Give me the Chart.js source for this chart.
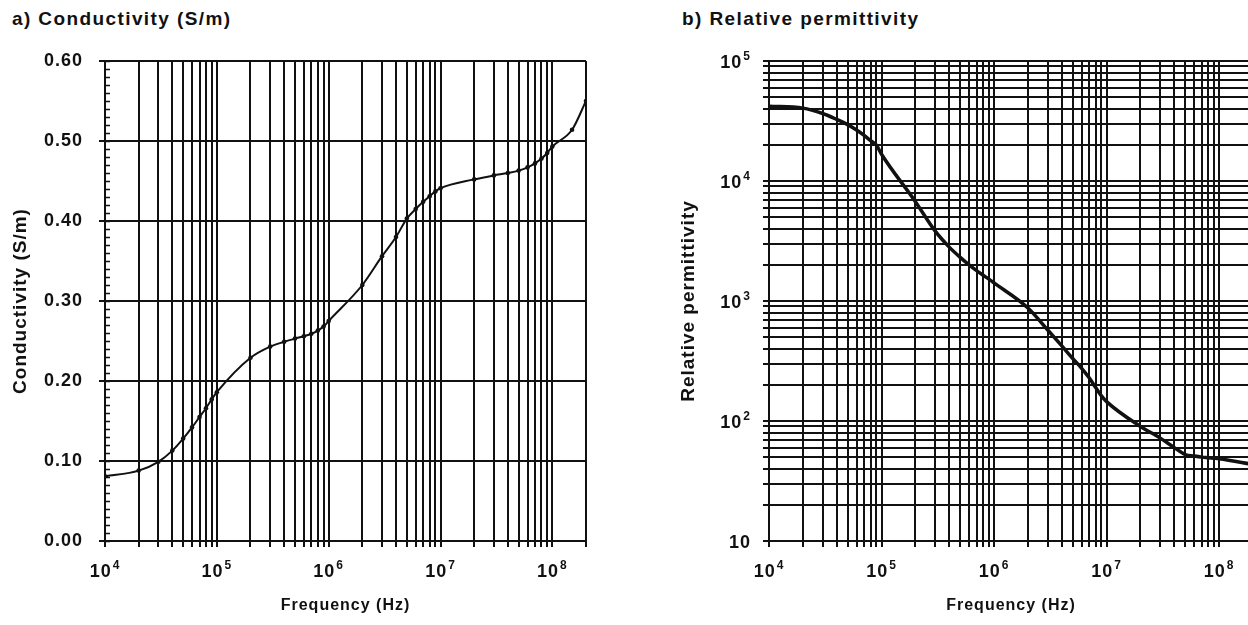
<!DOCTYPE html>
<html>
<head>
<meta charset="utf-8">
<script src="https://cdn.jsdelivr.net/npm/chart.js@4.4.0/dist/chart.umd.min.js"></script>
<style>
  html, body { margin: 0; padding: 0; width: 1248px; height: 625px; overflow: hidden; background: #fff; }
  .panel-title { position: absolute; top: 8px; font: bold 19px "Liberation Sans", Arial, sans-serif; letter-spacing: 1.4px; color: #111; }
  canvas { position: absolute; top: 0; }
</style>
</head>
<body>
<div class="panel-title" style="left:12px">a) Conductivity (S/m)</div>
<div class="panel-title" style="left:682px">b) Relative permittivity</div>
<canvas id="cond" width="620" height="625" style="left:0"></canvas>
<canvas id="perm" width="620" height="625" style="left:640px"></canvas>
<script>
// ---- data ----
const condFreqs = [1e4, 2e4, 3e4, 4e4, 5e4, 6e4, 7e4, 8e4, 9e4, 1e5, 2e5, 3e5, 4e5, 5e5, 6e5, 7e5, 8e5, 9e5,
  1e6, 2e6, 3e6, 4e6, 5e6, 6e6, 7e6, 8e6, 9e6, 1e7, 2e7, 3e7, 4e7, 5e7, 6e7, 7e7, 8e7, 9e7, 1e8, 1.5e8, 2e8];
const conductivity = [0.081, 0.088, 0.099, 0.113, 0.128, 0.142, 0.155, 0.166, 0.177, 0.186, 0.229, 0.243, 0.249, 0.253, 0.256, 0.259, 0.263, 0.268,
  0.275, 0.320, 0.356, 0.380, 0.403, 0.415, 0.424, 0.431, 0.437, 0.441, 0.452, 0.457, 0.460, 0.463, 0.467, 0.472, 0.478, 0.485, 0.493, 0.514, 0.550];

const permFreqs = [1e4, 2e4, 3e4, 4e4, 5e4, 6e4, 7e4, 8e4, 9e4, 1e5, 2e5, 3e5, 4e5, 5e5, 6e5, 7e5, 8e5, 9e5,
  1e6, 2e6, 3e6, 4e6, 5e6, 6e6, 7e6, 8e6, 9e6, 1e7, 2e7, 3e7, 4e7, 5e7, 6e7, 7e7, 8e7, 9e7, 1e8, 2e8];
const permittivity = [42000, 40500, 36500, 32600, 29500, 26600, 24000, 21700, 19900, 16700, 6730, 3820, 2810, 2310, 2000, 1790, 1640, 1520,
  1415, 875, 573, 422, 332, 275, 229, 190, 162, 145, 90, 72, 60, 52.5, 51, 50, 49.5, 49, 48.5, 43.5];

// ---- tick labels ----
const freqTicks = [1e4, 1e5, 1e6, 1e7, 1e8];
const freqExponents = ["4", "5", "6", "7", "8"];
const condTicks = [0, 0.1, 0.2, 0.3, 0.4, 0.5, 0.6];
const condLabels = ["0.00", "0.10", "0.20", "0.30", "0.40", "0.50", "0.60"];
const permTicks = [10, 100, 1000, 10000, 100000];
const permExponents = ["", "2", "3", "4", "5"];

const INK = "#111";
const FONT = "'Liberation Sans', Arial, sans-serif";

// 1..9 x 10^n grid between min and max
function logGrid(min, max) {
  const out = [];
  for (let e = Math.floor(Math.log10(min)); e <= Math.ceil(Math.log10(max)); e++) {
    for (let m = 1; m <= 9; m++) {
      const v = m * Math.pow(10, e);
      if (v >= min * 0.999 && v <= max * 1.001) out.push(v);
    }
  }
  return out;
}

function labelFrom(values, labels) {
  return (v) => {
    const i = values.findIndex((t) => (t === 0 ? v === 0 : Math.abs(t - v) / t < 1e-6));
    return i >= 0 ? labels[i] : "";
  };
}

const spacing = {
  id: "spacing",
  beforeDraw(chart) {
    chart.ctx.letterSpacing = "1px";
  },
};

// "10" with a raised exponent, placed with the scale's own pixels
function powerLabels(axisId, values, exps) {
  return {
    id: "powerLabels",
    afterDraw(chart) {
      const scale = chart.scales[axisId];
      const ctx = chart.ctx;
      ctx.save();
      ctx.fillStyle = INK;
      ctx.letterSpacing = "1px";
      ctx.textAlign = "left";
      ctx.textBaseline = "alphabetic";
      values.forEach((v, i) => {
        const p = scale.getPixelForValue(v);
        ctx.font = "bold 18px " + FONT;
        const wBase = ctx.measureText("10").width;
        ctx.font = "bold 12px " + FONT;
        const wExp = exps[i] ? ctx.measureText(exps[i]).width + 1 : 0;
        let x, yBase;
        if (axisId === "x") {
          x = p - (wBase + wExp) / 2;
          yBase = scale.top + 36;
        } else {
          x = chart.chartArea.left - 18 - wBase - wExp;
          yBase = p + 7;
        }
        ctx.font = "bold 18px " + FONT;
        ctx.fillText("10", x, yBase);
        if (exps[i]) {
          ctx.font = "bold 12px " + FONT;
          ctx.fillText(exps[i], x + wBase + 1, yBase - 8);
        }
      });
      ctx.restore();
    },
  };
}

// small inward ticks every 0.01 on the conductivity axis
const minorTicks = {
  id: "minorTicks",
  afterDatasetsDraw(chart) {
    const y = chart.scales.y;
    const left = chart.chartArea.left;
    const ctx = chart.ctx;
    ctx.save();
    ctx.strokeStyle = INK;
    ctx.lineWidth = 1.5;
    for (let k = 0; k <= 60; k++) {
      const py = Math.round(y.getPixelForValue(k / 100)) + 0.5;
      ctx.beginPath();
      ctx.moveTo(left, py);
      ctx.lineTo(left + 5, py);
      ctx.stroke();
    }
    ctx.restore();
  },
};

function xScale() {
  return {
    type: "logarithmic",
    min: 1e4,
    max: 2e8,
    afterBuildTicks: (axis) => { axis.ticks = logGrid(1e4, 2e8).map((v) => ({ value: v })); },
    afterFit: (axis) => { axis.height = 84; },
    grid: { color: INK, lineWidth: 2, tickLength: 6, tickColor: INK },
    border: { color: INK, width: 2 },
    ticks: { display: false },
    title: { display: true, text: "Frequency (Hz)", color: INK, font: { family: FONT, size: 16, weight: "bold" }, padding: { top: 0, bottom: 10 } },
  };
}

new Chart(document.getElementById("cond"), {
  type: "line",
  data: {
    datasets: [{
      data: condFreqs.map((f, i) => ({ x: f, y: conductivity[i] })),
      borderColor: INK,
      borderWidth: 2,
      pointRadius: 2.3,
      pointBackgroundColor: INK,
      pointBorderWidth: 0,
      cubicInterpolationMode: "monotone",
    }],
  },
  options: {
    responsive: false,
    animation: false,
    devicePixelRatio: 1,
    layout: { padding: { top: 61, right: 34, bottom: 0, left: 0 } },
    plugins: { legend: { display: false }, tooltip: { enabled: false } },
    scales: {
      x: xScale(),
      y: {
        min: 0,
        max: 0.6,
        afterBuildTicks: (axis) => { axis.ticks = condTicks.map((v) => ({ value: v })); },
        afterFit: (axis) => { axis.width = 105; },
        grid: { color: INK, lineWidth: 2, tickLength: 6, tickColor: INK },
        border: { color: INK, width: 2 },
        ticks: { padding: 16, color: INK, font: { family: FONT, size: 18, weight: "bold" }, callback: labelFrom(condTicks, condLabels) },
        title: { display: true, text: "Conductivity (S/m)", color: INK, font: { family: FONT, size: 19, weight: "bold" }, padding: { top: 9, bottom: 0 } },
      },
    },
  },
  plugins: [spacing, minorTicks, powerLabels("x", freqTicks, freqExponents)],
});

new Chart(document.getElementById("perm"), {
  type: "line",
  data: {
    datasets: [{
      data: permFreqs.map((f, i) => ({ x: f, y: permittivity[i] })),
      borderColor: INK,
      borderWidth: 3.5,
      pointRadius: 0,
      cubicInterpolationMode: "monotone",
    }],
  },
  options: {
    responsive: false,
    animation: false,
    devicePixelRatio: 1,
    layout: { padding: { top: 61, right: 7, bottom: 0, left: 0 } },
    plugins: { legend: { display: false }, tooltip: { enabled: false } },
    scales: {
      x: xScale(),
      y: {
        type: "logarithmic",
        min: 10,
        max: 1e5,
        afterBuildTicks: (axis) => { axis.ticks = logGrid(10, 1e5).map((v) => ({ value: v })); },
        afterFit: (axis) => { axis.width = 129; },
        grid: { color: INK, lineWidth: 2, tickLength: 6, tickColor: INK },
        border: { color: INK, width: 2 },
        ticks: { display: false },
        title: { display: true, text: "Relative permittivity", color: INK, font: { family: FONT, size: 19, weight: "bold" }, padding: { top: 37, bottom: 0 } },
      },
    },
  },
  plugins: [spacing, powerLabels("x", freqTicks, freqExponents), powerLabels("y", permTicks, permExponents)],
});
</script>
</body>
</html>
